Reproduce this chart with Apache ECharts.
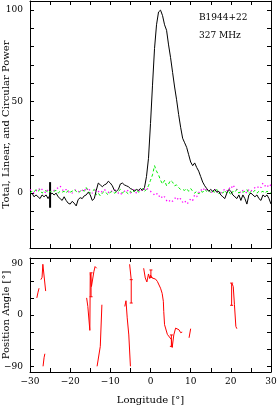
<!DOCTYPE html>
<html><head><meta charset="utf-8">
<script src="https://cdn.jsdelivr.net/npm/echarts@6/dist/echarts.min.js"></script>
<style>html,body{margin:0;padding:0;background:#fff}#c{width:278px;height:407px}</style>
</head><body><div id="c"></div>
<script>
// Longitude grid (degrees)
const lon = [-30,-29.5,-29,-28.5,-28,-27.5,-27,-26.5,-26,-25.5,-25,-24.5,-24,-23.5,-23,-22.5,-22,-21.5,-21,-20.5,
 -20,-19.5,-19,-18.5,-18,-17.5,-17,-16.5,-16,-15.5,-15,-14.5,-14,-13.5,-13,-12.5,-12,-11.5,-11,-10.5,
 -10,-9.5,-9,-8.5,-8,-7.5,-7,-6.5,-6,-5.5,-5,-4.5,-4,-3.5,-3,-2.5,-2,-1.5,-1,-0.5,
 0,0.5,1,1.5,2,2.5,3,3.5,4,4.5,5,5.5,6,6.5,7,7.5,8,8.5,9,9.5,
 10,10.5,11,11.5,12,12.5,13,13.5,14,14.5,15,15.5,16,16.5,17,17.5,18,18.5,19,19.5,
 20,20.5,21,21.5,22,22.5,23,23.5,24,24.5,25,25.5,26,26.5,27,27.5,28,28.5,29,29.5,30];
// Total power
const totalPower = [-1,0,-2,-1,-2,-3,-1,-2,-1,-3,-1,0,-1,0,-2,-3,-4,-2,-4,-5.5,
 -6,-4.5,-5.5,-7,-3.5,-2.5,-3,-1.5,-1,0.5,-1,-4,-3,1.5,5.5,4.5,3.5,4.5,5,6.5,
 5.5,4,1.5,1,2,5,5.5,4.5,4,3.5,2.5,2,1,2,1.5,2.5,1.5,3,9,19,
 38,59,79,92,99,100,97,92,89,81,74,66,58,51,43,36,30,27.5,25,21,
 17,15,16.5,14,12,9,6,4,2.5,1,2,1,2,0.5,1,-1,-2,-3,0,2,
 1,-1,-2,-3,-1,-4,-1,-3,-6,-1,0,-1,-2,-1,-3,-4,-1,-2,-1,-3,-6];
// Linear power
const linearPower = [0,1,0.5,2,1,2,0,1,1.5,0,1,0.5,1,1.5,0,1,0.5,1,0,1.5,
 0.5,1,2,1,0,1,2,1,3,1,0,1,2,-1,0,-1.5,0,1,0,-1,
 0.5,1,0,0.5,1,2,0,1,0.5,-0.5,1,0,1.5,2,0.5,1,2.5,1,2,4,
 7,10,15,12,10,7,5,7,4,5,7,6,4,4.5,3,2,2,1.5,2.5,1,
 2.5,1,0,1,-0.5,1,0.5,2,1,2,0,1,0.5,2,-0.5,1,0,1.5,0,1,
 -1,1,0.5,2,0,1,0.5,1,2,-0.5,1,0.5,1.5,0,1,0.5,1,0,1,0.5,0];
// Circular power
const circularPower = [2,1,0,1.5,1,3,2,1,0,2,1,0.5,1.5,2,3,4,2,1,2,0.5,
 1,0,1,2,1,0.5,1.5,2.5,1,3,1,0,1,2,1,0,1,2,1,0.5,
 0,1.5,2,1,0,-1,0.5,1,2,1,0,1.5,2,0,1,2.5,1,2,3,1.5,
 1,0,-1,0,-2,-1,-3,-2,-4,-5,-3.5,-4.5,-3,-2,-4,-3,-5,-4,-6,-5,
 -3,-4,-1,-2,0,2,1,3,1.5,2,0,1,2,0.5,1,0,1.5,2,1,3,
 2,4.5,3,2,1,0,1.5,1,0,2,1,2,3,2.5,4,3,5.5,4,3,5,4];
// Off-pulse noise bar on total power: [lon, low, high]
const noiseBar = [[-25, -8, 6]];
// Position angle segments: [lon, PA]
const paSegments = [
 [[-28.3,30],[-28.0,40],[-27.75,47]],
 [[-27.3,62],[-27.0,66],[-26.8,89],[-26.4,89],[-26.1,42]],
 [[-26.75,-90],[-26.5,-75],[-26.3,-68]],
 [[-15.9,30],[-15.6,15],[-15.1,-27],[-15.0,73],[-14.7,50],[-14.3,52],[-14.1,76],[-13.8,85],[-13.6,88],[-13.4,82]],
 [[-13.3,-90],[-12.5,-55],[-12.1,18]],
 [[-6.4,15],[-6.1,25],[-5.8,-5],[-5.4,-35],[-5.0,-90]],
 [[-5.2,89],[-4.8,62]],
 [[-1.7,82],[-1.3,65],[-0.9,58],[-0.5,72],[-0.2,64],[0,70],[0.4,65],[0.8,67],[1.25,63],[1.7,59],[2.1,56],[2.5,47],[2.9,38],[3.2,24],[3.3,6],[3.5,-17],[3.75,-20],[4.2,-34],[4.6,-37],[5.2,-43],[5.4,-57],[5.8,-35],[6.25,-23],[6.7,-20],[7.1,-26],[7.5,-31],[7.9,-30]],
 [[9.6,-40],[10.0,-24]],
 [[20.3,55],[20.6,50],[20.9,18],[21.25,-20],[21.5,-24]]
];
// Position angle error bars: [lon, low, high]
const paErrors = [[-14.8,32,74],[-4.8,21,62],[0.1,66,79],[5.2,-55,-35],[20.2,17,56]];
// Tick values
const xLabelVals = [-30,-20,-10,0,10,20,30];
const powerLabelVals = [0,50,100];
const paTickVals = [-90,-60,-30,0,30,60,90];
const paLabelVals = [-90,0,90];

const FONT = 'DejaVu Serif';
const minus = v => (v < 0 ? '\u2212' + Math.abs(v) : String(v));
const pair = arr => lon.map((x, i) => [x, arr[i]]);

function barRenderer(color, width, cap) {
  return function (params, api) {
    const a = api.coord([api.value(0), api.value(1)]);
    const b = api.coord([api.value(0), api.value(2)]);
    const st = { stroke: color, lineWidth: width };
    const ch = [{ type: 'line', shape: { x1: a[0], y1: a[1], x2: b[0], y2: b[1] }, style: st }];
    if (cap) {
      ch.push({ type: 'line', shape: { x1: a[0]-cap, y1: a[1], x2: a[0]+cap, y2: a[1] }, style: st });
      ch.push({ type: 'line', shape: { x1: b[0]-cap, y1: b[1], x2: b[0]+cap, y2: b[1] }, style: st });
    }
    return { type: 'group', children: ch };
  };
}

const axLine = { show: true, onZero: false, lineStyle: { color: '#000', width: 1 } };
const tick = extra => Object.assign({ show: true, inside: true, length: 4, lineStyle: { color: '#000' } }, extra || {});
function xAx(grid, pos, labels) {
  return {
    type: 'value', gridIndex: grid, position: pos, min: -30, max: 30, interval: 5,
    axisLine: axLine, splitLine: { show: false },
    axisTick: tick(),
    axisLabel: labels ? {
      show: true, color: '#000', fontFamily: FONT, fontSize: 9, margin: 5,
      formatter: v => (xLabelVals.indexOf(v) >= 0 ? minus(v) : '')
    } : { show: false },
    name: labels ? 'Longitude [\u00b0]' : '', nameLocation: 'middle', nameGap: 23, nameMoveOverlap: false,
    nameTextStyle: { color: '#000', fontFamily: FONT, fontSize: 10 }
  };
}

const option = {
  animation: false,
  backgroundColor: '#fff',
  grid: [
    { left: 30, top: 1, width: 241, height: 247, containLabel: false, outerBoundsMode: 'none' },
    { left: 30, top: 258, width: 241, height: 114, containLabel: false, outerBoundsMode: 'none' }
  ],
  xAxis: [xAx(0, 'bottom', false), xAx(0, 'top', false), xAx(1, 'bottom', true), xAx(1, 'top', false)],
  yAxis: [
    { type: 'value', gridIndex: 0, position: 'left', min: -30, max: 105, interval: 10,
      axisLine: axLine, splitLine: { show: false }, axisTick: tick(),
      axisLabel: { color: '#000', fontFamily: FONT, fontSize: 9, margin: 7,
        formatter: v => (powerLabelVals.indexOf(v) >= 0 ? minus(v) : '') },
      name: 'Total, Linear, and Circular Power', nameLocation: 'middle', nameGap: 19, nameMoveOverlap: false,
      nameTextStyle: { color: '#000', fontFamily: FONT, fontSize: 10 } },
    { type: 'value', gridIndex: 0, position: 'right', min: -30, max: 105, interval: 10,
      axisLine: axLine, splitLine: { show: false }, axisTick: tick(),
      axisLabel: { show: false } },
    { type: 'value', gridIndex: 1, position: 'left', min: -100, max: 100,
      axisLine: axLine, splitLine: { show: false },
      axisTick: tick({ customValues: paTickVals }),
      axisLabel: { color: '#000', fontFamily: FONT, fontSize: 9, margin: 7, customValues: paLabelVals,
        formatter: v => minus(v) },
      name: 'Position Angle [\u00b0]', nameLocation: 'middle', nameGap: 19, nameMoveOverlap: false,
      nameTextStyle: { color: '#000', fontFamily: FONT, fontSize: 10 } },
    { type: 'value', gridIndex: 1, position: 'right', min: -100, max: 100,
      axisLine: axLine, splitLine: { show: false },
      axisTick: tick({ customValues: paTickVals }),
      axisLabel: { show: false } }
  ],
  graphic: [
    { type: 'text', left: 199, top: 13, style: { text: 'B1944+22', fill: '#000', font: '9px "DejaVu Serif"' } },
    { type: 'text', left: 199, top: 31, style: { text: '327 MHz', fill: '#000', font: '9px "DejaVu Serif"' } }
  ],
  series: [
    { type: 'line', xAxisIndex: 0, yAxisIndex: 0, data: pair(circularPower), showSymbol: false,
      lineStyle: { color: '#ff00ff', width: 1.3, type: [1.3, 3] }, silent: true },
    { type: 'line', xAxisIndex: 0, yAxisIndex: 0, data: pair(linearPower), showSymbol: false,
      lineStyle: { color: '#00ee00', width: 1, type: [3, 2.5] }, silent: true },
    { type: 'line', xAxisIndex: 0, yAxisIndex: 0, data: pair(totalPower), showSymbol: false,
      lineStyle: { color: '#000', width: 1 }, silent: true },
    { type: 'custom', xAxisIndex: 0, yAxisIndex: 0, data: noiseBar, encode: { x: 0, y: [1, 2] },
      renderItem: barRenderer('#000', 2, 0), silent: true },
    ...paSegments.map(seg => ({
      type: 'line', xAxisIndex: 2, yAxisIndex: 2, data: seg, showSymbol: false,
      lineStyle: { color: '#ff0000', width: 1 }, silent: true
    })),
    { type: 'custom', xAxisIndex: 2, yAxisIndex: 2, data: paErrors, encode: { x: 0, y: [1, 2] },
      renderItem: barRenderer('#ff0000', 1, 1.5), silent: true }
  ]
};
const chart = echarts.init(document.getElementById('c'), null, { renderer: 'canvas' });
chart.setOption(option);
</script></body></html>
